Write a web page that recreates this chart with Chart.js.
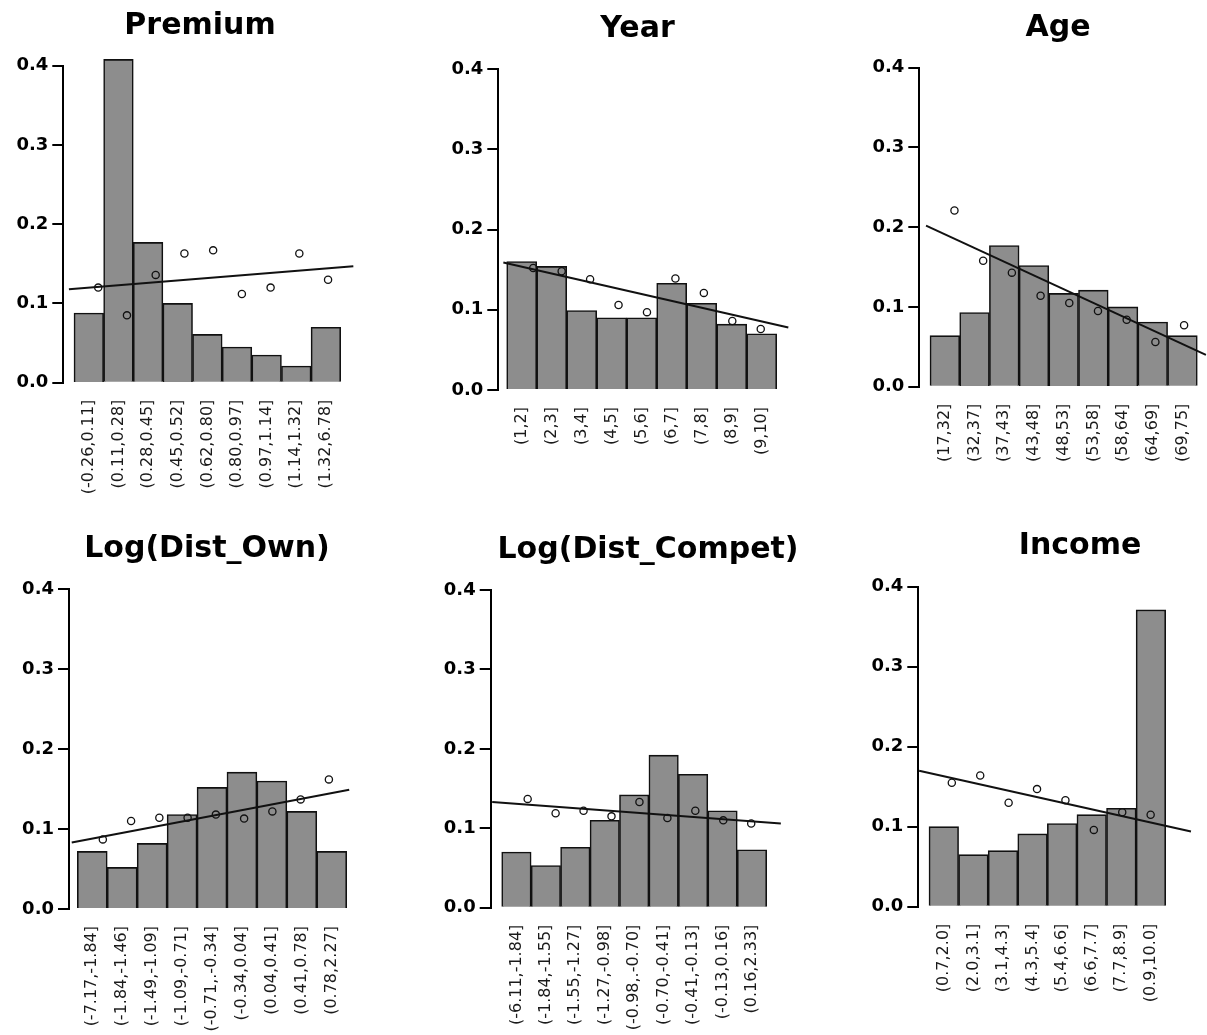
<!DOCTYPE html>
<html><head><meta charset="utf-8">
<script src="https://cdn.jsdelivr.net/npm/chart.js@4/dist/chart.umd.min.js"></script>
<style>
html,body{margin:0;padding:0;background:#fff;overflow:hidden;width:1207px;height:1035px;position:relative;}
canvas{position:absolute;left:0;top:0;pointer-events:none;}
</style></head><body>
<canvas id="c0" width="1300" height="1100"></canvas>
<canvas id="c1" width="1300" height="1100"></canvas>
<canvas id="c2" width="1300" height="1100"></canvas>
<canvas id="c3" width="1300" height="1100"></canvas>
<canvas id="c4" width="1300" height="1100"></canvas>
<canvas id="c5" width="1300" height="1100"></canvas>
<script>
// ---------------- data ----------------
const yTicks = [0, 0.1, 0.2, 0.3, 0.4];

const premiumBins  = ['(-0.26,0.11]','(0.11,0.28]','(0.28,0.45]','(0.45,0.52]','(0.62,0.80]','(0.80,0.97]','(0.97,1.14]','(1.14,1.32]','(1.32,6.78]'];
const premiumShare = [0.088, 0.408, 0.177, 0.100, 0.061, 0.045, 0.035, 0.021, 0.070];
const premiumRate  = [0.120, 0.085, 0.136, 0.163, 0.167, 0.112, 0.120, 0.163, 0.130];
const premiumFitX  = [-0.02, 9.88];
const premiumFitY  = [0.118, 0.147];

const yearBins  = ['(1,2]','(2,3]','(3,4]','(4,5]','(5,6]','(6,7]','(7,8]','(8,9]','(9,10]'];
const yearShare = [0.160, 0.154, 0.099, 0.090, 0.090, 0.133, 0.108, 0.082, 0.070];
const yearRate  = [0.152, 0.148, 0.138, 0.106, 0.097, 0.139, 0.121, 0.086, 0.076];
const yearFitX  = [-0.05, 9.97];
const yearFitY  = [0.159, 0.078];

const ageBins  = ['(17,32]','(32,37]','(37,43]','(43,48]','(48,53]','(53,58]','(58,64]','(64,69]','(69,75]'];
const ageShare = [0.064, 0.093, 0.177, 0.152, 0.117, 0.121, 0.100, 0.081, 0.064];
const ageRate  = [0.221, 0.158, 0.143, 0.114, 0.105, 0.095, 0.084, 0.056, 0.077];
const ageFitX  = [0.01, 9.76];
const ageFitY  = [0.202, 0.040];

const ownBins  = ['(-7.17,-1.84]','(-1.84,-1.46]','(-1.49,-1.09]','(-1.09,-0.71]','(-0.71,.-0.34]','(-0.34,0.04]','(0.04,0.41]','(0.41,0.78]','(0.78,2.27]'];
const ownShare = [0.072, 0.052, 0.082, 0.118, 0.152, 0.171, 0.160, 0.122, 0.072];
const ownRate  = [0.087, 0.110, 0.114, 0.114, 0.118, 0.113, 0.122, 0.137, 0.162];
const ownFitX  = [-0.10, 9.72];
const ownFitY  = [0.083, 0.149];

const competBins  = ['(-6.11,-1.84]','(-1.84,-1.55]','(-1.55,-1.27]','(-1.27,-0.98]','(-0.98,.-0.70]','(-0.70,-0.41]','(-0.41,-0.13]','(-0.13,0.16]','(0.16,2.33]'];
const competShare = [0.070, 0.053, 0.076, 0.110, 0.142, 0.192, 0.168, 0.122, 0.073];
const competRate  = [0.137, 0.119, 0.122, 0.115, 0.133, 0.113, 0.122, 0.110, 0.106];
const competFitX  = [-0.27, 10.06];
const competFitY  = [0.133, 0.106];

const incomeBins  = ['(0.7,2.0]','(2.0,3.1]','(3.1,4.3]','(4.3,5.4]','(5.4,6.6]','(6.6,7.7]','(7.7,8.9]','(0.9,10.0]'];
const incomeShare = [0.100, 0.065, 0.070, 0.091, 0.104, 0.115, 0.123, 0.371];
const incomeRate  = [0.155, 0.164, 0.130, 0.147, 0.133, 0.096, 0.118, 0.115];
const incomeFitX  = [-0.15, 9.42];
const incomeFitY  = [0.170, 0.094];

// ---------------- layout (pixels) ----------------
const panels = [
  {title:'Premium', bins:premiumBins, share:premiumShare, rate:premiumRate, fitX:premiumFitX, fitY:premiumFitY,
   L:{left:63.3, barL:74, barR:340.7, top:65.7, bottom:382.7, titleX:200, titleBase:36.7, a:-0.152, s:0.9695}},
  {title:'Year', bins:yearBins, share:yearShare, rate:yearRate, fitX:yearFitX, fitY:yearFitY,
   L:{left:498.3, barL:506.7, barR:776.7, top:69, bottom:390, titleX:637.5, titleBase:39.3, a:-0.064, s:0.948}},
  {title:'Age', bins:ageBins, share:ageShare, rate:ageRate, fitX:ageFitX, fitY:ageFitY,
   L:{left:919.3, barL:930, barR:1197.3, top:67.7, bottom:386.7, titleX:1058, titleBase:38.3, a:-0.143, s:0.9665}},
  {title:'Log(Dist_Own)', bins:ownBins, share:ownShare, rate:ownRate, fitX:ownFitX, fitY:ownFitY,
   L:{left:69, barL:77.3, barR:346.7, top:589, bottom:909, titleX:207, titleBase:559.3, a:-0.091, s:0.944}},
  {title:'Log(Dist_Compet)', bins:competBins, share:competShare, rate:competRate, fitX:competFitX, fitY:competFitY,
   L:{left:490.7, barL:501.7, barR:766.7, top:590, bottom:907.7, titleX:648, titleBase:560, a:-0.067, s:0.949}},
  {title:'Income', bins:incomeBins, share:incomeShare, rate:incomeRate, fitX:incomeFitX, fitY:incomeFitY,
   L:{left:918.3, barL:929, barR:1165.7, top:586.7, bottom:906.7, titleX:1080, titleBase:556.7, a:-0.189, s:0.96}}
];

const CW = 1300, CH = 1100, YW = 60, XH = 135, TS = 30;

panels.forEach((p, k) => {
  const L = p.L, n = p.bins.length;
  const unit = (L.barR - L.barL) / n;
  const right = 2 * L.titleX - L.left;
  const xmin = (L.left - L.barL) / unit;
  const xmax = (right - L.barL) / unit;
  const xrmin = (xmin - L.a) / L.s;
  const xrmax = (xmax - L.a) / L.s;
  const tb = L.top - L.titleBase - 5;
  const padTop = L.top - TS - tb;
  const noPad = s => { s.paddingLeft = 0; s.paddingRight = 0; s.paddingTop = 0; s.paddingBottom = 0; };

  new Chart(document.getElementById('c' + k), {
    type: 'bar',
    data: {
      datasets: [
        {type:'bar', xAxisID:'x', yAxisID:'y',
         data: p.share.map((v, i) => ({x: i + 0.5, y: v})),
         backgroundColor:'#8d8d8d', borderColor:'#111', borderWidth:1.6,
         categoryPercentage:1, barPercentage:1, grouped:false, clip:false, order:3},
        {type:'scatter', xAxisID:'xr', yAxisID:'y',
         data: p.rate.map((v, i) => ({x: i + 1, y: v})),
         pointRadius:3.6, pointBorderWidth:1.3, pointBorderColor:'#111',
         pointBackgroundColor:'rgba(0,0,0,0)', showLine:false, clip:false, order:2},
        {type:'line', xAxisID:'xr', yAxisID:'y',
         data: p.fitX.map((x, i) => ({x: x, y: p.fitY[i]})),
         borderColor:'#111', borderWidth:2, pointRadius:0, fill:false, clip:false, order:1}
      ]
    },
    options: {
      responsive:false, animation:false, devicePixelRatio:1,
      events: [],
      layout:{padding:{left:L.left - YW, right:CW - right, top:padTop, bottom:CH - L.bottom - XH}},
      plugins:{
        legend:{display:false}, tooltip:{enabled:false},
        title:{display:true, text:p.title, fullSize:false, color:'#000',
               font:{family:'DejaVu Sans', weight:'bold', size:TS, lineHeight:1},
               padding:{top:0, bottom:tb}}
      },
      scales:{
        x:{type:'linear', position:'bottom', min:xmin, max:xmax, offset:false,
           grid:{display:false, drawTicks:false, offset:false}, border:{display:false},
           afterBuildTicks: s => { s.ticks = p.bins.map((b, i) => ({value: i + 0.5})); },
           afterFit: s => { s.height = XH; noPad(s); },
           ticks:{autoSkip:false, minRotation:90, maxRotation:90, padding:17, color:'#1a1a1a',
                  font:{family:'DejaVu Sans', size:16},
                  callback:(v, i) => p.bins[i]}},
        xr:{type:'linear', display:false, min:xrmin, max:xrmax, offset:false,
            ticks:{display:false}, grid:{display:false, drawTicks:false, offset:false}, border:{display:false},
            afterFit: s => { s.height = 0; noPad(s); }},
        y:{type:'linear', position:'left', min:0, max:0.4,
           grid:{display:true, drawOnChartArea:false, drawTicks:true, tickLength:11, color:'#000', lineWidth:2},
           border:{display:true, color:'#000', width:2},
           afterBuildTicks: s => { s.ticks = yTicks.map(v => ({value: v})); },
           afterFit: s => { s.width = YW; noPad(s); },
           ticks:{padding:4, color:'#000', font:{family:'DejaVu Sans', weight:'bold', size:18},
                  callback:v => Number(v).toFixed(1)}}
      }
    }
  });
});
</script>
</body></html>
